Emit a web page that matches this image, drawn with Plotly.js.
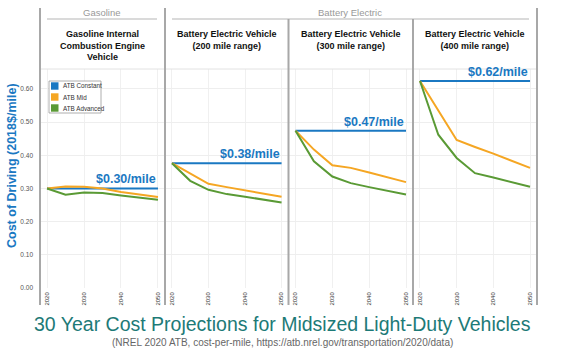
<!DOCTYPE html>
<html><head><meta charset="utf-8">
<script src="https://cdn.plot.ly/plotly-3.0.1.min.js"></script>
<style>html,body{margin:0;padding:0;background:#fff}#chart{width:563px;height:353px}</style>
</head><body><div id="chart"></div>
<script>
const years = [2020, 2025, 2030, 2035, 2040, 2050];
const panelTitles = ["Gasoline Internal<br>Combustion Engine<br>Vehicle", "Battery Electric Vehicle<br>(200 mile range)", "Battery Electric Vehicle<br>(300 mile range)", "Battery Electric Vehicle<br>(400 mile range)"];
const seriesNames = ["ATB Constant", "ATB Mid", "ATB Advanced"];
const gasConstant = [0.300, 0.300, 0.300, 0.300, 0.300, 0.300];
const gasMid      = [0.300, 0.306, 0.305, 0.300, 0.289, 0.274];
const gasAdv      = [0.300, 0.281, 0.288, 0.286, 0.279, 0.266];
const bev200Constant = [0.376, 0.376, 0.376, 0.376, 0.376, 0.376];
const bev200Mid      = [0.376, 0.345, 0.314, 0.304, 0.294, 0.275];
const bev200Adv      = [0.376, 0.323, 0.296, 0.283, 0.275, 0.258];
const bev300Constant = [0.474, 0.474, 0.474, 0.474, 0.474, 0.474];
const bev300Mid      = [0.474, 0.417, 0.370, 0.362, 0.348, 0.319];
const bev300Adv      = [0.474, 0.382, 0.336, 0.316, 0.304, 0.282];
const bev400Constant = [0.624, 0.624, 0.624, 0.624, 0.624, 0.624];
const bev400Mid      = [0.624, 0.535, 0.446, 0.425, 0.405, 0.362];
const bev400Adv      = [0.624, 0.462, 0.392, 0.346, 0.333, 0.305];
const yTicks = [0, 0.1, 0.2, 0.3, 0.4, 0.5, 0.6];
const xTicks = [2020, 2030, 2040, 2050];

const W = 563, H = 353;
const px = v => v / W, py = v => 1 - v / H;
const colors = ["#1a78c2", "#f5a623", "#5a9a35"];
const panels = [
  [gasConstant, gasMid, gasAdv],
  [bev200Constant, bev200Mid, bev200Adv],
  [bev300Constant, bev300Mid, bev300Adv],
  [bev400Constant, bev400Mid, bev400Adv]
];
const edges = [40, 165, 288.5, 413, 537];
const traces = [];
const layout = {
  width: W, height: H, margin: {l: 0, r: 0, t: 0, b: 0},
  paper_bgcolor: "#fff", plot_bgcolor: "#fff",
  font: {family: "Liberation Sans, Arial, sans-serif", color: "#333"},
  showlegend: false,
  annotations: [], shapes: []
};
const yDomain = [py(288), py(69)];
panels.forEach((series, i) => {
  const n = i === 0 ? "" : String(i + 1);
  const xa = "x" + n, ya = "y" + n;
  series.forEach((vals, k) => {
    traces.push({x: years, y: vals, xaxis: xa, yaxis: ya, type: "scatter", mode: "lines", name: seriesNames[k],
      line: {color: colors[k], width: 2}, showlegend: false, hoverinfo: "skip"});
  });
  layout["xaxis" + n] = {domain: [px(edges[i]), px(edges[i + 1])], range: [2018.1, 2051.9],
    anchor: ya, tickvals: xTicks, ticktext: xTicks.map(String), tickangle: -90,
    tickfont: {size: 6, color: "#333"}, showgrid: true, gridcolor: "#f0f0f0", gridwidth: 1,
    zeroline: false, showline: false, ticks: "", ticklabelstandoff: 2, fixedrange: true};
  layout["yaxis" + n] = {domain: yDomain, range: [0, 0.66], anchor: xa,
    tickvals: yTicks, ticktext: yTicks.map(v => v.toFixed(2)), showticklabels: i === 0,
    tickfont: {size: 6.5, color: "#555"}, showgrid: true, gridcolor: "#eeeeee", gridwidth: 1,
    zeroline: false, showline: false, ticks: "", ticklabelstandoff: 6, fixedrange: true};
  const c = series[0][series[0].length - 1];
  layout.annotations.push({xref: xa, yref: ya, x: years[years.length - 1], y: c,
    xanchor: "right", yanchor: "bottom", yshift: 0, showarrow: false,
    text: "<b>$" + c.toFixed(2) + "/mile</b>", font: {size: 12.5, color: colors[0]}});
  layout.annotations.push({xref: "paper", yref: "paper", x: px((edges[i] + edges[i + 1]) / 2), y: py(27),
    xanchor: "center", yanchor: "top", showarrow: false, text: "<b>" + panelTitles[i] + "</b>",
    font: {size: 9, color: "#111"}});
});
// legend box (drawn)
layout.shapes.push({type: "rect", xref: "paper", yref: "paper", x0: px(49), x1: px(101), y0: py(81), y1: py(113),
  line: {color: "#999", width: 0.8}, fillcolor: "#fff", layer: "above"});
seriesNames.forEach((name, k) => {
  const cy = 86 + k * 11;
  layout.shapes.push({type: "rect", xref: "paper", yref: "paper", x0: px(51), x1: px(58.5), y0: py(cy - 3.7), y1: py(cy + 3.7),
    line: {width: 0}, fillcolor: colors[k], layer: "above"});
  layout.annotations.push({xref: "paper", yref: "paper", x: px(60.5), y: py(cy), xanchor: "left", yanchor: "middle",
    showarrow: false, text: name, font: {size: 6.3, color: "#333"}});
});
// group headers
layout.annotations.push({xref: "paper", yref: "paper", x: px(102), y: py(12), xanchor: "center", yanchor: "middle",
  showarrow: false, text: "Gasoline", font: {size: 9.5, color: "#999"}});
layout.annotations.push({xref: "paper", yref: "paper", x: px(350), y: py(12), xanchor: "center", yanchor: "middle",
  showarrow: false, text: "Battery Electric", font: {size: 9.5, color: "#999"}});
layout.shapes.push({type: "line", xref: "paper", yref: "paper", x0: px(47), x1: px(157), y0: py(19), y1: py(19), line: {color: "#b5b5b5", width: 1}});
layout.shapes.push({type: "line", xref: "paper", yref: "paper", x0: px(172), x1: px(529), y0: py(19), y1: py(19), line: {color: "#b5b5b5", width: 1}});
layout.shapes.push({type: "line", xref: "paper", yref: "paper", x0: px(40), x1: px(537), y0: py(69), y1: py(69), line: {color: "#e2e2e2", width: 1}});
// dividers
[[40, 8], [165, 8], [288.5, 19], [413, 19], [537, 8]].forEach(d => {
  layout.shapes.push({type: "line", xref: "paper", yref: "paper", x0: px(d[0]), x1: px(d[0]), y0: py(d[1]), y1: py(305),
    line: {color: "#a8a8a8", width: 2}});
});
// y title
layout.annotations.push({xref: "paper", yref: "paper", x: px(12), y: py(166), xanchor: "center", yanchor: "middle",
  showarrow: false, textangle: -90, text: "<b>Cost of Driving (2018$/mile)</b>", font: {size: 12.5, color: colors[0]}});
// main title
layout.annotations.push({xref: "paper", yref: "paper", x: px(282), y: py(324), xanchor: "center", yanchor: "middle",
  showarrow: false, text: "30 Year Cost Projections for Midsized Light-Duty Vehicles", font: {size: 19.5, color: "#1d7a77"}});
layout.annotations.push({xref: "paper", yref: "paper", x: px(282), y: py(342), xanchor: "center", yanchor: "middle",
  showarrow: false, text: "(NREL 2020 ATB, cost-per-mile, https://atb.nrel.gov/transportation/2020/data)", font: {size: 10, color: "#666"}});

Plotly.newPlot("chart", traces, layout, {displayModeBar: false, staticPlot: true});
</script></body></html>
